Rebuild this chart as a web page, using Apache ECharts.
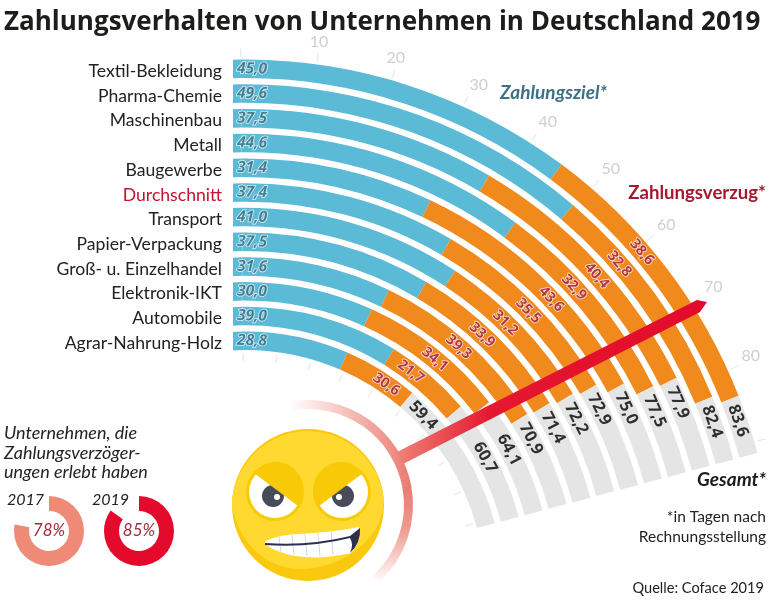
<!DOCTYPE html>
<html>
<head>
<meta charset="utf-8">
<title>Zahlungsverhalten</title>
<script src="https://cdn.jsdelivr.net/npm/echarts@6/dist/echarts.min.js"></script>
<style>
html,body{margin:0;padding:0;background:#fff}
#chart{width:769px;height:600px}
</style>
</head>
<body>
<div id="chart"></div>
<script>
const branchen = ['Textil-Bekleidung','Pharma-Chemie','Maschinenbau','Metall','Baugewerbe','Durchschnitt','Transport','Papier-Verpackung','Groß- u. Einzelhandel','Elektronik-IKT','Automobile','Agrar-Nahrung-Holz'];
const zahlungsziel = [45.0,49.6,37.5,44.6,31.4,37.4,41.0,37.5,31.6,30.0,39.0,28.8];
const zahlungsverzug = [38.6,32.8,40.4,32.9,43.6,35.5,31.2,33.9,39.3,34.1,21.7,30.6];
const gesamt = [83.6,82.4,77.9,77.5,75.0,72.9,72.2,71.4,70.9,64.1,60.7,59.4];
// das Original zeichnet den untersten Balken kuerzer als seine Beschriftung (30,6)
const verzugBalken = [38.6,32.8,40.4,32.9,43.6,35.5,31.2,33.9,39.3,34.1,21.7,20.6];
const tickWerte = [0,10,20,30,40,50,60,70,80,90];
const tickLabels = [10,20,30,40,50,60,70,80];
const donutJahre = ['2017','2019'];
const donutWerte = [78,85];

// Geometrie der Ringe
const cx = 245, cy = 590;
const rInnen = 237, rAussen = 533.5;
const gradProTag = 0.825;
const nullWinkel = 90.45;
const minTag = -10, maxTag = 91.5;
const pitch = (rAussen - rInnen) / branchen.length;

function winkel(tag){ return nullWinkel - gradProTag * tag }
function ringR(i){ return rAussen - pitch * (i + 0.5) }
function grad(px, r){ return px / r * 180 / Math.PI }
function deutsch(v){ return v.toFixed(1).replace('.', ',') }

// Label auf Ring i beim Winkel theta (Grad im Uhrzeigersinn von oben)
function ringLabel(i, theta, text){
  return {
    value: [branchen[i], (theta + 0.45) / gradProTag],
    label: { formatter: text, rotate: -theta }
  };
}

const blauLabels = branchen.map((b, i) => ringLabel(i, grad(7, ringR(i)), deutsch(zahlungsziel[i])));
// die Verzugswerte liegen auf einer Linie parallel zum Pfeil
const orangeLabels = branchen.map((b, i) => {
  let theta = Math.acos(117.7 / ringR(i)) * 180 / Math.PI - 27.35;
  return ringLabel(i, theta, deutsch(zahlungsverzug[i]));
});
const gesamtLabels = branchen.map((b, i) => {
  let abstand = i == 9 ? 50 : i == 10 ? 55 : 23; // zwei Werte stehen hinter dem Pfeil
  let ende = gradProTag * (zahlungsziel[i] + verzugBalken[i]) - 0.45;
  return ringLabel(i, ende + grad(abstand, ringR(i)), deutsch(gesamt[i]));
});

function balken(farbe, daten){
  return {
    type: 'bar', coordinateSystem: 'polar', polarIndex: 0, stack: 'tage', barWidth: 18.5, silent: true,
    itemStyle: { color: farbe }, data: daten
  };
}
function labelSerie(daten, style){
  return {
    type: 'scatter', coordinateSystem: 'polar', polarIndex: 0,
    symbolSize: 1, itemStyle: { color: 'transparent' }, silent: true, z: 4,
    label: Object.assign({ show: true, position: 'inside', fontFamily: 'Open Sans', fontWeight: 'bold' }, style),
    data: daten
  };
}
function donut(i, x, farbe){
  return {
    type: 'pie', center: [x, 531], radius: [20, 35], startAngle: 90, silent: true,
    label: { show: true, position: 'center', fontFamily: 'Lato', fontStyle: 'italic', fontSize: 17, color: '#a52a3c' },
    labelLine: { show: false },
    data: [
      { value: donutWerte[i], name: donutWerte[i] + '%', itemStyle: { color: farbe } },
      { value: 100 - donutWerte[i], name: '', itemStyle: { color: 'transparent' }, label: { show: false } }
    ]
  };
}
function text(x, y, t, size, color, extra){
  return {
    type: 'text', x: x, y: y, z: 20, silent: true,
    style: Object.assign({ text: t, fontFamily: 'Lato', fontSize: size, fill: color, textVerticalAlign: 'middle' }, extra)
  };
}
function kreis(x, y, r, farbe){ return { type: 'circle', shape: { cx: x, cy: y, r: r }, style: { fill: farbe } } }
function pfad(d, farbe){ return { type: 'path', shape: { pathData: d }, style: { fill: farbe } } }
function zahn(x1, y1, x2, y2){ return { type: 'line', shape: { x1: x1, y1: y1, x2: x2, y2: y2 }, style: { stroke: '#d5d8e4', lineWidth: 1 } } }
function bogen(von, bis, stops, x2, y2){
  return {
    type: 'sector', z: 6, silent: true,
    shape: { cx: 308, cy: 505, r: 105, r0: 96, startAngle: von * Math.PI / 180, endAngle: bis * Math.PI / 180, clockwise: true },
    style: { fill: { type: 'linear', x: 0, y: 0, x2: x2, y2: y2, colorStops: stops } }
  };
}

// Smiley
function smiley(){
  const lid = '#f8c906';
  return {
    type: 'group',
    children: [
      kreis(308, 505, 76, '#fac80e'),
      pfad('M232 505 A76 76 0 0 1 383 495 C388 535 345 569 300 569 C262 568 238 540 232 505Z', '#ffd92f'),
      kreis(275, 492, 29, lid),
      kreis(342, 492, 29, lid),
      kreis(275, 492, 26, '#fff'),
      kreis(342, 492, 26, '#fff'),
      kreis(273, 496, 11, '#484c5a'),
      kreis(343, 496, 11, '#484c5a'),
      pfad('M254 473 L298 506 A26 26 0 0 0 254 473Z', lid),
      pfad('M319 506 L363 473 A26 26 0 0 0 319 506Z', lid),
      kreis(277, 497, 3, '#fff'),
      kreis(339, 497, 3, '#fff'),
      pfad('M265 541 Q282 534 300 534 Q335 532 359 527 Q361 542 351 553 Q320 560 295 556 Q275 552 265 544Z', '#fff'),
      zahn(279, 537, 281, 552),
      zahn(292, 535, 294, 555),
      zahn(305, 534, 307, 556),
      zahn(318, 533, 320, 556),
      zahn(331, 531, 333, 555),
      pfad('M265 543 Q310 546 350 536 L360 528 Q361 543 350 553 Q354 544 350 538 Q310 548 265 545Z', '#2c2f50')
    ]
  };
}

const chart = echarts.init(document.getElementById('chart'));
chart.setOption({
  animation: false,
  backgroundColor: '#fff',
  title: {
    text: 'Zahlungsverhalten von Unternehmen in Deutschland 2019',
    left: 4, top: 10, padding: 0,
    textStyle: { fontFamily: 'Open Sans', fontWeight: 'bold', fontSize: 26, color: '#1d1d1b' }
  },
  polar: [
    { center: [cx, cy], radius: [rInnen, rAussen] },
    { center: [cx, cy], radius: [rInnen - 20, rInnen] },
    // nur fuer die Namen, sitzen etwas tiefer als die Ringe
    { center: [cx, cy + 2.5], radius: [rInnen, rAussen] }
  ],
  angleAxis: [
    {
      polarIndex: 0, type: 'value', min: minTag, max: maxTag, startAngle: winkel(minTag), endAngle: winkel(maxTag), clockwise: true,
      axisLine: { show: false }, splitLine: { show: false }, minorTick: { show: false },
      axisTick: { show: true, length: 8, inside: false, customValues: tickWerte, lineStyle: { color: '#e3e3e3' } },
      axisLabel: { show: true, margin: 12, fontFamily: 'Lato', fontSize: 16, color: '#cfcfcf', customValues: tickLabels }
    },
    {
      polarIndex: 1, type: 'value', min: minTag, max: maxTag, startAngle: winkel(minTag), endAngle: winkel(maxTag), clockwise: true,
      axisLine: { show: false }, splitLine: { show: false }, axisLabel: { show: false },
      axisTick: { show: true, length: 8, inside: true, customValues: tickWerte, lineStyle: { color: '#e3e3e3' } }
    },
    {
      polarIndex: 2, type: 'value', min: 0, max: 100, startAngle: 90, endAngle: 0, clockwise: true,
      show: false
    }
  ],
  radiusAxis: [
    {
      polarIndex: 0, type: 'category', data: branchen, inverse: true,
      axisLine: { show: false }, axisTick: { show: false }, axisLabel: { show: false }, splitLine: { show: false }
    },
    { polarIndex: 1, type: 'value', min: 0, max: 1, show: false },
    {
      polarIndex: 2, type: 'category', data: branchen, inverse: true, z: 10,
      axisLine: { show: false }, axisTick: { show: false }, splitLine: { show: false },
      axisLabel: {
        interval: 0, margin: 23, fontFamily: 'Lato', fontSize: 17.6,
        color: function(v){ return v == 'Durchschnitt' ? '#c4122f' : '#222' }
      }
    }
  ],
  series: [
    // Vorlauf: die Ringe beginnen links von der Null an einer senkrechten Kante
    balken('#5bbad5', branchen.map(() => minTag)),
    balken('#5bbad5', zahlungsziel),
    balken('#f18a1c', verzugBalken),
    // grauer Rest der Ringe bis zum gemeinsamen Ende
    balken('#e5e5e5', branchen.map((b, i) => maxTag - zahlungsziel[i] - verzugBalken[i])),
    labelSerie(blauLabels, { fontSize: 15.5, fontStyle: 'italic', color: '#2a6880', textBorderColor: '#fff', textBorderWidth: 1.5 }),
    labelSerie(orangeLabels, { fontSize: 14.5, color: '#a3122d', textBorderColor: '#fff', textBorderWidth: 1.5 }),
    labelSerie(gesamtLabels, { fontSize: 16.5, color: '#000' }),
    donut(0, 49, '#ee8a75'),
    donut(1, 139, '#e30a2c'),
    {
      type: 'custom', coordinateSystem: 'none', z: 9, silent: true,
      renderItem: smiley, data: [0]
    }
  ],
  graphic: [
    // schneidet die Ringe links senkrecht ab
    { type: 'rect', z: 5, silent: true, shape: { x: 150, y: 45, width: 83, height: 320 }, style: { fill: '#fff' } },

    // Bogen um den Smiley
    bogen(-100, -10, [{ offset: 0, color: '#fff' }, { offset: 1, color: '#ea7a70' }], 1, 0),
    bogen(-10.5, 48, [{ offset: 0, color: '#ea7a70' }, { offset: 0.45, color: '#f09a90' }, { offset: 1, color: '#fff' }], 0, 1),
    // Pfeil
    {
      type: 'polygon', z: 7, silent: true,
      shape: { points: [[397,452],[697,300],[707,302],[700,312],[403,464]] },
      style: { fill: { type: 'linear', x: 0, y: 0, x2: 1, y2: 0, colorStops: [
        { offset: 0, color: '#ee8378' }, { offset: 0.3, color: '#e5172f' }, { offset: 1, color: '#e30a2c' }
      ] } }
    },

    // Texte
    text(500, 93, 'Zahlungsziel*', 19, '#3e7186', { fontStyle: 'italic', fontWeight: 'bold' }),
    text(766, 193, 'Zahlungsverzug*', 18.6, '#a5182f', { fontWeight: 'bold', textAlign: 'right' }),
    text(766, 480, 'Gesamt*', 19, '#1d1d1b', { fontStyle: 'italic', fontWeight: 'bold', textAlign: 'right' }),
    text(766, 517, '*in Tagen nach', 15.5, '#222', { textAlign: 'right' }),
    text(766, 537, 'Rechnungsstellung', 15.5, '#222', { textAlign: 'right' }),
    text(764, 588, 'Quelle: Coface 2019', 14.6, '#222', { textAlign: 'right' }),
    text(4, 433, 'Unternehmen, die', 18, '#222', { fontStyle: 'italic' }),
    text(4, 453, 'Zahlungsverzöger-', 18, '#222', { fontStyle: 'italic' }),
    text(4, 472, 'ungen erlebt haben', 18, '#222', { fontStyle: 'italic' }),
    text(7, 500, donutJahre[0], 16, '#222', { fontStyle: 'italic' }),
    text(92, 500, donutJahre[1], 16, '#222', { fontStyle: 'italic' })
  ]
});
</script>
</body>
</html>
